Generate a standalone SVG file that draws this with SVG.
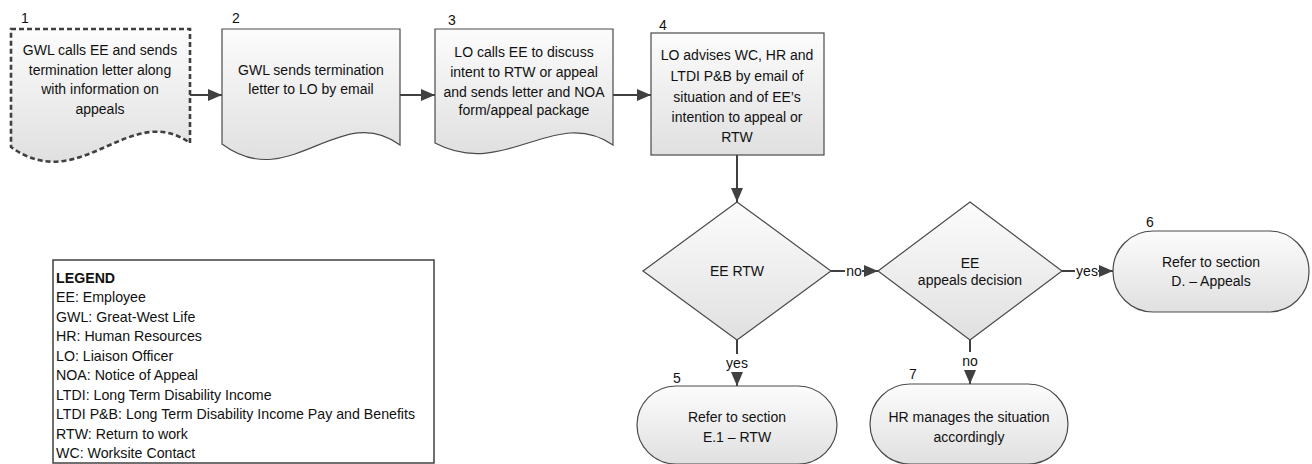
<svg xmlns="http://www.w3.org/2000/svg" width="1312" height="464" viewBox="0 0 1312 464">
<defs>
<linearGradient id="g" x1="0" y1="0" x2="0" y2="1">
<stop offset="0" stop-color="#fcfcfc"/>
<stop offset="1" stop-color="#e0e0e0"/>
</linearGradient>
<marker id="ah" markerUnits="userSpaceOnUse" markerWidth="14" markerHeight="12" refX="14" refY="6" orient="auto">
<path d="M0,0 L14,6 L0,12 Z" fill="#404040"/>
</marker>
<style>
.shape{fill:url(#g);stroke:#4a4a4a;stroke-width:1.2}
.dash{fill:url(#g);stroke:#404040;stroke-width:2.6;stroke-dasharray:5 3}
.t{font-family:"Liberation Sans",Arial,sans-serif;font-size:14px;fill:#111;text-anchor:middle}
.n{font-family:"Liberation Sans",Arial,sans-serif;font-size:14px;fill:#111;text-anchor:middle}
.lg{font-family:"Liberation Sans",Arial,sans-serif;font-size:14.2px;fill:#111}
.c{stroke:#404040;stroke-width:2;fill:none}
.lbl{font-family:"Liberation Sans",Arial,sans-serif;font-size:14px;fill:#111;text-anchor:middle}
</style>
</defs>

<g id="connectors">
<line class="c" x1="190" y1="95" x2="222" y2="95" marker-end="url(#ah)"/>
<line class="c" x1="400" y1="95" x2="435" y2="95" marker-end="url(#ah)"/>
<line class="c" x1="613" y1="95" x2="651" y2="95" marker-end="url(#ah)"/>
<line class="c" x1="737" y1="155" x2="737" y2="202" marker-end="url(#ah)"/>
<line class="c" x1="828" y1="271" x2="845" y2="271"/>
<line class="c" x1="862" y1="271" x2="878" y2="271" marker-end="url(#ah)"/>
<text class="lbl" x="854" y="276">no</text>
<line class="c" x1="1062" y1="271" x2="1075" y2="271"/>
<line class="c" x1="1098" y1="271" x2="1113" y2="271" marker-end="url(#ah)"/>
<text class="lbl" x="1087" y="276">yes</text>
<line class="c" x1="737" y1="340" x2="737" y2="354"/>
<line class="c" x1="737" y1="372" x2="737" y2="386" marker-end="url(#ah)"/>
<text class="lbl" x="737" y="368">yes</text>
<line class="c" x1="970" y1="340" x2="970" y2="352"/>
<line class="c" x1="970" y1="370" x2="970" y2="384" marker-end="url(#ah)"/>
<text class="lbl" x="970" y="366">no</text>
</g>

<g id="node1">
<path class="dash" d="M11,29 H190 V143 C130,100 80,197 11,147 Z"/>
<text class="n" x="25" y="23">1</text>
<text class="t" x="100" y="55">GWL calls EE and sends</text>
<text class="t" x="100" y="75">termination letter along</text>
<text class="t" x="100" y="94">with information on</text>
<text class="t" x="100" y="114">appeals</text>
</g>

<g id="node2">
<path class="shape" d="M222,29 H400 V145 C340,100 290,195 222,144 Z"/>
<text class="n" x="236" y="23">2</text>
<text class="t" x="311" y="75">GWL sends termination</text>
<text class="t" x="311" y="94">letter to LO by email</text>
</g>

<g id="node3">
<path class="shape" d="M435,29 H613 V145 C555,105 505,180 435,143 Z"/>
<text class="n" x="452" y="25">3</text>
<text class="t" x="524" y="57">LO calls EE to discuss</text>
<text class="t" x="524" y="77">intent to RTW or appeal</text>
<text class="t" x="524" y="97">and sends letter and NOA</text>
<text class="t" x="524" y="115">form/appeal package</text>
</g>

<g id="node4">
<rect class="shape" x="651" y="33" width="173" height="122"/>
<text class="n" x="663" y="30">4</text>
<text class="t" x="737" y="60">LO advises WC, HR and</text>
<text class="t" x="737" y="81">LTDI P&amp;B by email of</text>
<text class="t" x="737" y="102">situation and of EE’s</text>
<text class="t" x="737" y="122">intention to appeal or</text>
<text class="t" x="737" y="142">RTW</text>
</g>

<g id="decision1">
<polygon class="shape" points="737,202 831,271 737,340 643,271"/>
<text class="t" x="737" y="276">EE RTW</text>
</g>

<g id="decision2">
<polygon class="shape" points="970,202 1062,271 970,340 878,271"/>
<text class="t" x="970" y="268">EE</text>
<text class="t" x="970" y="285">appeals decision</text>
</g>

<g id="node6">
<rect class="shape" x="1113" y="231" width="196" height="81" rx="40" ry="40"/>
<text class="n" x="1150" y="227">6</text>
<text class="t" x="1211" y="267">Refer to section</text>
<text class="t" x="1211" y="286">D. – Appeals</text>
</g>

<g id="node5">
<rect class="shape" x="637" y="386" width="200" height="78" rx="39" ry="39"/>
<text class="n" x="677" y="383">5</text>
<text class="t" x="737" y="422">Refer to section</text>
<text class="t" x="737" y="442">E.1 – RTW</text>
</g>

<g id="node7">
<rect class="shape" x="870" y="384" width="198" height="80" rx="40" ry="40"/>
<text class="n" x="913" y="379">7</text>
<text class="t" x="969" y="422">HR manages the situation</text>
<text class="t" x="969" y="442">accordingly</text>
</g>

<g id="legend">
<rect x="53" y="260" width="381" height="203" fill="#fff" stroke="#404040" stroke-width="1.5"/>
<text class="lg" x="56" y="283" font-weight="bold">LEGEND</text>
<text class="lg" x="56" y="302">EE: Employee</text>
<text class="lg" x="56" y="322">GWL: Great-West Life</text>
<text class="lg" x="56" y="341">HR: Human Resources</text>
<text class="lg" x="56" y="361">LO: Liaison Officer</text>
<text class="lg" x="56" y="380">NOA: Notice of Appeal</text>
<text class="lg" x="56" y="400">LTDI: Long Term Disability Income</text>
<text class="lg" x="56" y="419">LTDI P&amp;B: Long Term Disability Income Pay and Benefits</text>
<text class="lg" x="56" y="439">RTW: Return to work</text>
<text class="lg" x="56" y="458">WC: Worksite Contact</text>
</g>
</svg>
